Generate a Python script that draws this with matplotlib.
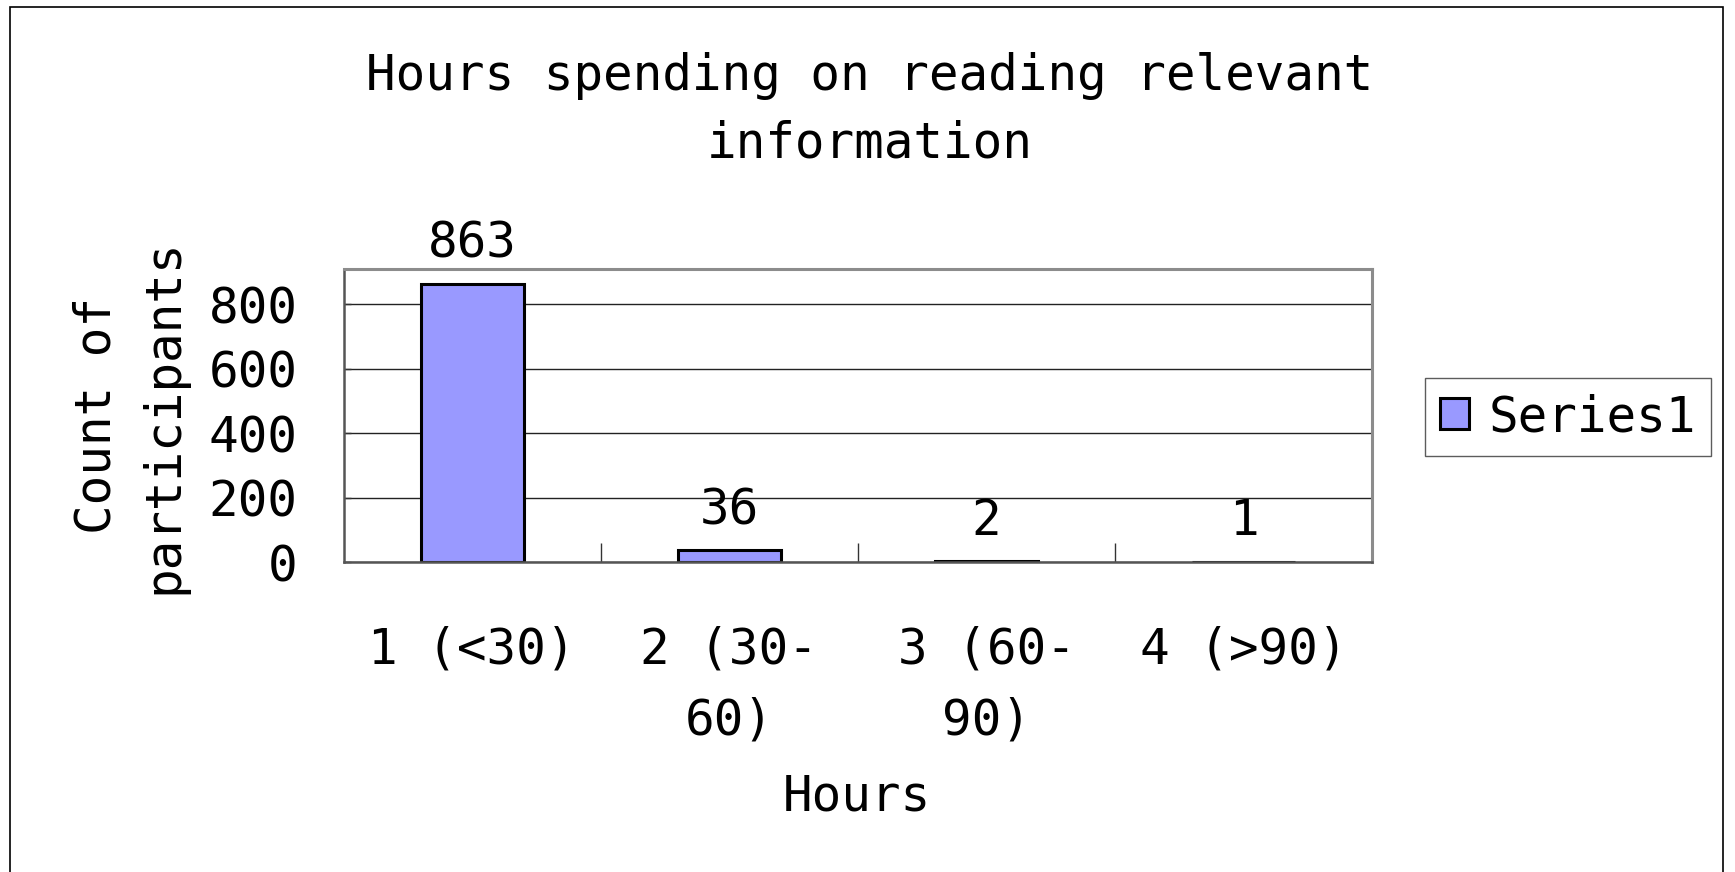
import matplotlib.pyplot as plt
from matplotlib.patches import Rectangle

# Chart data
categories = ['1 (<30)', '2 (30-\n60)', '3 (60-\n90)', '4 (>90)']
counts = [863, 36, 2, 1]
series_name = 'Series1'
y_ticks = [0, 200, 400, 600, 800]

font = 'DejaVu Sans Mono'
fs = 35.5
plt.rcParams['font.family'] = font

fig = plt.figure(figsize=(17.35, 8.72), dpi=100)
ax = fig.add_axes([0.198, 0.3555, 0.593, 0.336])
ax.set_axisbelow(True)

x = list(range(len(categories)))
bars = ax.bar(x, counts, width=0.4, color='#9999FF', edgecolor='black',
              linewidth=2.2, label=series_name, zorder=2)

# Data labels above the bars
for xi, v in zip(x, counts):
    ax.annotate(str(v), xy=(xi, v), xytext=(0, 19), textcoords='offset points',
                ha='center', va='baseline', fontsize=fs)

ax.set_xlim(-0.5, len(categories) - 0.5)
ax.set_ylim(0, 910)
ax.set_yticks(y_ticks)
ax.set_yticklabels([str(t) for t in y_ticks], fontsize=fs)
ax.yaxis.grid(True, color='#222222', linewidth=1.0)
ax.tick_params(axis='y', direction='in', length=5, width=1, color='#333333', pad=33)

ax.set_xticks(x)
ax.set_xticklabels(categories, fontsize=fs, linespacing=1.6)
ax.set_xticks([0.5, 1.5, 2.5, 3.5], minor=True)
ax.tick_params(axis='x', which='major', length=0, pad=46)
ax.tick_params(axis='x', which='minor', direction='in', length=14, width=1, color='#333333')

for side in ['top', 'right']:
    ax.spines[side].set_color('#8c8c8c')
    ax.spines[side].set_linewidth(2.2)
for side in ['left', 'bottom']:
    ax.spines[side].set_color('#555555')
    ax.spines[side].set_linewidth(1.8)

# Title and axis titles
fig.text(0.501, 0.940, 'Hours spending on reading relevant\ninformation',
         ha='center', va='top', fontsize=fs, linespacing=1.5)
fig.text(0.494, 0.070, 'Hours', ha='center', va='baseline', fontsize=fs)
fig.text(0.075, 0.523, 'Count of\nparticipants', ha='center', va='center',
         rotation=90, fontsize=fs, linespacing=1.5)

# Legend
leg = fig.legend(handles=[bars], labels=[series_name], loc='center',
                 bbox_to_anchor=(1568 / 1735, (872 - 417) / 872),
                 fontsize=fs, frameon=True, fancybox=False,
                 handlelength=0.6, handleheight=0.6, handletextpad=0.4,
                 borderpad=0.3, borderaxespad=0)
leg.get_frame().set_edgecolor('#333333')
leg.get_frame().set_linewidth(1.0)

# Outer chart border
fig.patches.append(Rectangle((10 / 1735, -0.05), (1723 - 10) / 1735, 0.05 + (872 - 7) / 872,
                             transform=fig.transFigure, fill=False,
                             edgecolor='black', linewidth=1.2))

plt.savefig('out.png', dpi=100)
